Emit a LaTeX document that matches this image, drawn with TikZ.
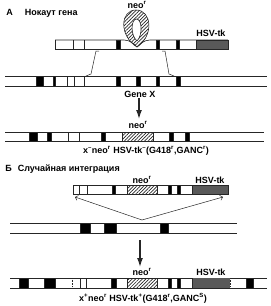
\documentclass[tikz,border=0pt]{standalone}
\usepackage{fontspec}
\setmainfont{Liberation Sans}
\usepackage{tikz}
\usetikzlibrary{arrows.meta, patterns.meta}
\colorlet{tkgray}{black!65}
\colorlet{dnaline}{black!85}

\begin{document}
\begin{tikzpicture}[x=1pt, y=-1pt, line width=0.6pt, draw=dnaline,
    lbl/.style={font=\fontsize{9}{10}\selectfont\bfseries, inner sep=0pt},
    neobox/.style={pattern={Lines[angle=45, distance=2.4pt, line width=0.7pt]}, pattern color=black!85},
    tkbox/.style={fill=tkgray},
    bigarrow/.style={-{Latex[length=9pt, width=6pt]}, line width=1.3pt},
    cross/.style={line width=0.5pt}]
    \useasboundingbox (0,0) rectangle (271,306);

    % A: heading and labels
    \node[lbl, anchor=west] (headA) at (6,13) {А\hspace{12pt}Нокаут гена};
    \node[lbl] (neoA) at (137,5) {neo\textsuperscript{r}};
    \node[lbl] (tkA) at (211,33) {HSV-tk};

    % A: targeting vector with the neo loop
    \draw (55,40) -- (124,40) .. controls (130,40) and (134,44) .. (137,47)
          .. controls (140,44) and (144,40) .. (150,40) -- (228,40);
    \draw (55,40) -- (55,49) -- (228,49) -- (228,40);
    \draw[neobox, even odd rule]
        (137,47) .. controls (119,36) and (120,10) .. (136,10)
                 .. controls (152,10) and (154,36) .. (137,47)
        (137,41) .. controls (130,35) and (131,19) .. (136.5,19)
                 .. controls (142,19) and (143,35) .. (137,41);
    \foreach \x in {73,84}
        \draw (\x,40) -- (\x,49);
    \foreach \a/\b in {116/120, 156/159, 176/179}
        \draw[fill=black] (\a,40) rectangle (\b,49);
    \draw[tkbox] (196,40) rectangle (228,49);

    % A: crossover lines
    \coordinate (xL1) at (99,51);
    \coordinate (xL2) at (96,51);
    \coordinate (xL3) at (91,74);
    \coordinate (xL4) at (86,76);
    \coordinate (xR1) at (162,51);
    \coordinate (xR2) at (165,51);
    \coordinate (xR3) at (169,74);
    \coordinate (xR4) at (174,76);
    \draw[cross] (xL1) -- (xL2) -- (xL3) -- (xL4);
    \draw[cross] (xR1) -- (xR2) -- (xR3) -- (xR4);

    % A: chromosome with gene X
    \draw (5,76) -- (267,76);
    \draw (5,86) -- (267,86);
    \foreach \x in {67,74,84}
        \draw (\x,76) -- (\x,86);
    \foreach \a/\b in {36/43, 53/55.5, 116/120, 136/140, 156/159, 176/180}
        \draw[fill=black] (\a,76) rectangle (\b,86);
    \node[lbl] (geneX) at (140,94) {Gene X};

    \coordinate (arrA1) at (139,98);
    \coordinate (arrA2) at (139,119);
    \draw[bigarrow] (arrA1) -- (arrA2);

    % A: recombinant
    \node[lbl] (neoR) at (138,125) {neo\textsuperscript{r}};
    \draw (5,132) -- (264,132);
    \draw (5,141) -- (264,141);
    \foreach \x in {68,79}
        \draw (\x,132) -- (\x,141);
    \foreach \a/\b in {29/37, 47/51, 101/105, 169/173, 185/189}
        \draw[fill=black] (\a,132) rectangle (\b,141);
    \draw[neobox] (122,132) rectangle (153,141);
    \node[lbl] (labR) at (146,151)
        {x\textsuperscript{--}neo\textsuperscript{r} HSV-tk\textsuperscript{--}(G418\textsuperscript{r},GANC\textsuperscript{r})};

    % B: heading and labels
    \node[lbl, anchor=west] (headB) at (5,169) {Б\hspace{6pt}Случайная интеграция};
    \node[lbl] (neoB) at (142,180) {neo\textsuperscript{r}};
    \node[lbl] (tkB) at (210,180) {HSV-tk};

    % B: vector
    \draw (73,185) rectangle (228,194);
    \foreach \x in {79,87}
        \draw (\x,185) -- (\x,194);
    \foreach \a/\b in {112/115, 168/171, 177/180}
        \draw[fill=black] (\a,185) rectangle (\b,194);
    \draw[neobox] (127,185) rectangle (157,194);
    \draw[tkbox] (192,185) rectangle (228,194);

    % B: insertion lines
    \coordinate (insB) at (142,220);
    \coordinate (vecBL) at (75,197);
    \coordinate (vecBR) at (223,197);
    \draw[cross, -{Straight Barb[length=2.5pt]}] (insB) -- (vecBL);
    \draw[cross, -{Straight Barb[length=2.5pt]}] (insB) -- (vecBR);

    % B: chromosome
    \draw (10,223) -- (237,223);
    \draw (10,233) -- (237,233);
    \foreach \a/\b in {80/90, 104/116, 160/168}
        \draw[fill=black] (\a,223) rectangle (\b,233);

    \coordinate (arrB1) at (140,240);
    \coordinate (arrB2) at (140,267);
    \draw[bigarrow] (arrB1) -- (arrB2);

    % B: random insert
    \node[lbl] (neoF) at (142,272) {neo\textsuperscript{r}};
    \node[lbl] (tkF) at (211,272) {HSV-tk};
    \draw (10,278) -- (267,278);
    \draw (10,288) -- (267,288);
    \draw[densely dotted] (72,278) -- (72,288);
    \foreach \x in {80,86}
        \draw (\x,278) -- (\x,288);
    \foreach \a/\b in {19/28, 44/55, 111/116, 168/171, 177/180, 246/253}
        \draw[fill=black] (\a,278) rectangle (\b,288);
    \draw[neobox] (127,278) rectangle (157,288);
    \fill[tkbox] (192,278) rectangle (230,288);
    \draw (192,278) -- (192,288);
    \draw[densely dotted] (230,278) -- (230,288);
    \node[lbl] (labF) at (143,298)
        {x\textsuperscript{+}neo\textsuperscript{r} HSV-tk\textsuperscript{+}(G418\textsuperscript{r},GANC\textsuperscript{S})};
\end{tikzpicture}
\end{document}
